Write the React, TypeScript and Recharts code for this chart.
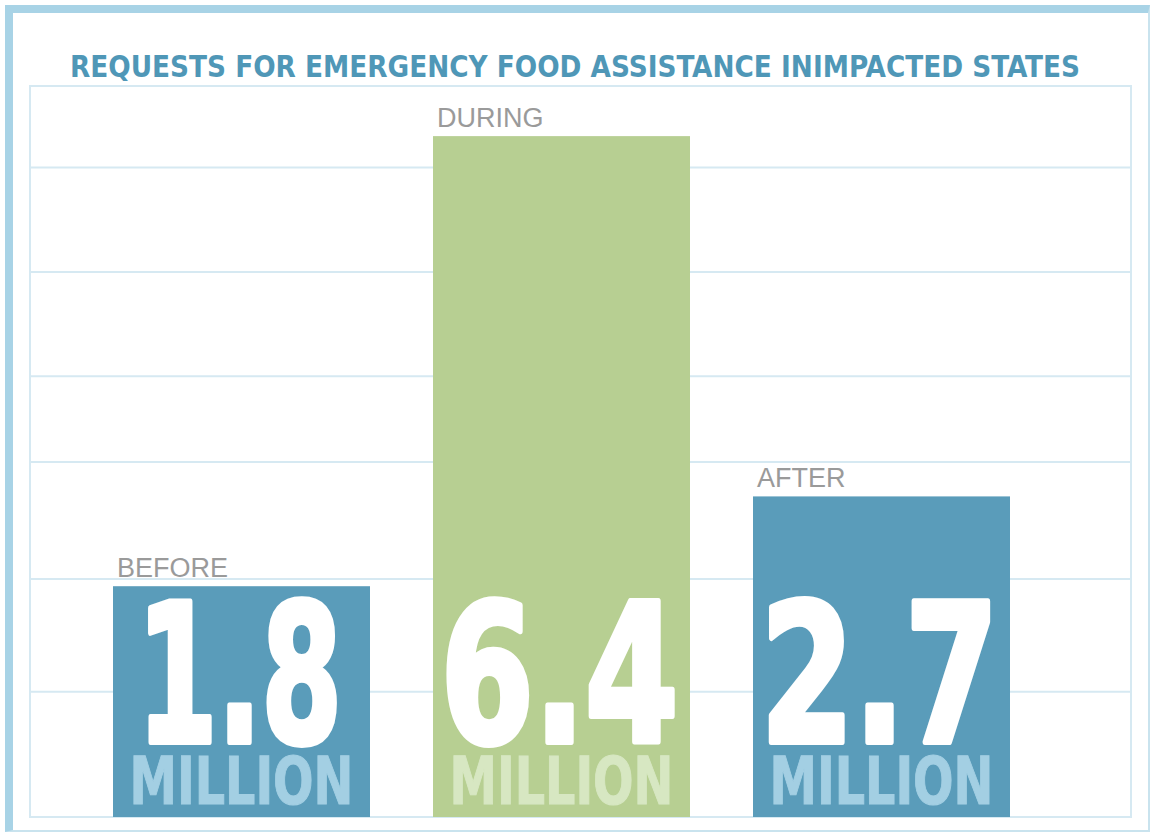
import React from 'react'
import { BarChart, Bar, XAxis, YAxis, CartesianGrid } from 'recharts'

// drawn heights of the bars, on the chart's own scale (0..7)
const periods = ['BEFORE', 'DURING', 'AFTER']
const barHeights = [2.21, 6.52, 3.07]
const valueLabels = ['1.8', '6.4', '2.7']
const unitLabels = ['MILLION', 'MILLION', 'MILLION']
const gridTicks = [0, 1.2, 2.28, 3.4, 4.22, 5.22, 6.22, 7]

const BAR_COLORS = ['#5a9cba', '#b7cf92', '#5a9cba']
const UNIT_COLORS = ['#a3cfe3', '#d7e7c2', '#a3cfe3']
const GRID = '#d6e9f2'
const NARROW = "'Liberation Sans Narrow', 'DejaVu Sans Condensed', 'Roboto Condensed', sans-serif"

const data = periods.map((p, i) => ({
  period: p,
  height: barHeights[i],
  value: valueLabels[i],
  unit: unitLabels[i],
}))

// squeeze the big figures to the width of a condensed black face
const figureWidth = (s: string) =>
  s.split('').reduce((w, ch) => w + (ch === '1' ? 62 : ch === '.' ? 48 : 95), 0)

const BarShape = (props: any) => {
  const { x, y, width, height, index } = props
  const bottom = y + height
  const cx = x + width / 2
  const row = data[index]
  return (
    <g>
      <rect x={x} y={y} width={width} height={height} fill={BAR_COLORS[index]} />
      <text
        x={x + 4}
        y={y - 9}
        fontSize={27}
        fontFamily="'Liberation Sans', Arial, sans-serif"
        fill="#9a9a9a"
      >
        {row.period}
      </text>
      <text
        x={cx - 2}
        y={bottom - 75}
        textAnchor="middle"
        fontSize={192}
        fontWeight="bold"
        fontFamily={NARROW}
        fill="#fff"
        stroke="#fff"
        strokeWidth={6}
        strokeLinejoin="round"
        textLength={figureWidth(row.value)}
        lengthAdjust="spacingAndGlyphs"
      >
        {row.value}
      </text>
      <text
        x={cx}
        y={bottom - 13}
        textAnchor="middle"
        fontSize={66}
        fontWeight="bold"
        fontFamily={NARROW}
        fill={UNIT_COLORS[index]}
        stroke={UNIT_COLORS[index]}
        strokeWidth={1}
        textLength={224}
        lengthAdjust="spacingAndGlyphs"
      >
        {row.unit}
      </text>
    </g>
  )
}

export default function App() {
  return (
    <div style={{ position: 'absolute', left: 0, top: 0, width: 1151, height: 833, background: '#fff' }}>
      {/* outer frame */}
      <div
        style={{
          position: 'absolute',
          left: 5,
          top: 5,
          width: 1145,
          height: 827,
          boxSizing: 'border-box',
          borderTop: '8px solid #a8d3e6',
          borderLeft: '8px solid #a8d3e6',
          borderRight: '2px solid #c9e3ee',
          borderBottom: '2px solid #c9e3ee',
        }}
      />
      {/* plot frame */}
      <div
        style={{
          position: 'absolute',
          left: 29,
          top: 85,
          width: 1103,
          height: 733,
          boxSizing: 'border-box',
          border: `2px solid ${GRID}`,
        }}
      />
      <svg width={1151} height={90} style={{ position: 'absolute', left: 0, top: 0 }}>
        <text
          x={575}
          y={77}
          textAnchor="middle"
          fontSize={31}
          fontWeight="bold"
          fontFamily={NARROW}
          fill="#4f97b7"
          textLength={1010}
          lengthAdjust="spacingAndGlyphs"
        >
          REQUESTS FOR EMERGENCY FOOD ASSISTANCE INIMPACTED STATES
        </text>
      </svg>
      <div style={{ position: 'absolute', left: 0, top: 0 }}>
        <BarChart
          width={1151}
          height={833}
          data={data}
          margin={{ top: 86, right: 20, bottom: 16, left: 30 }}
        >
          <CartesianGrid vertical={false} stroke={GRID} strokeWidth={2} />
          <XAxis dataKey="period" hide padding={{ left: 51, right: 90 }} />
          <YAxis hide domain={[0, 7]} ticks={gridTicks} type="number" />
          <Bar dataKey="height" barSize={257} isAnimationActive={false} shape={<BarShape />} />
        </BarChart>
      </div>
    </div>
  )
}
